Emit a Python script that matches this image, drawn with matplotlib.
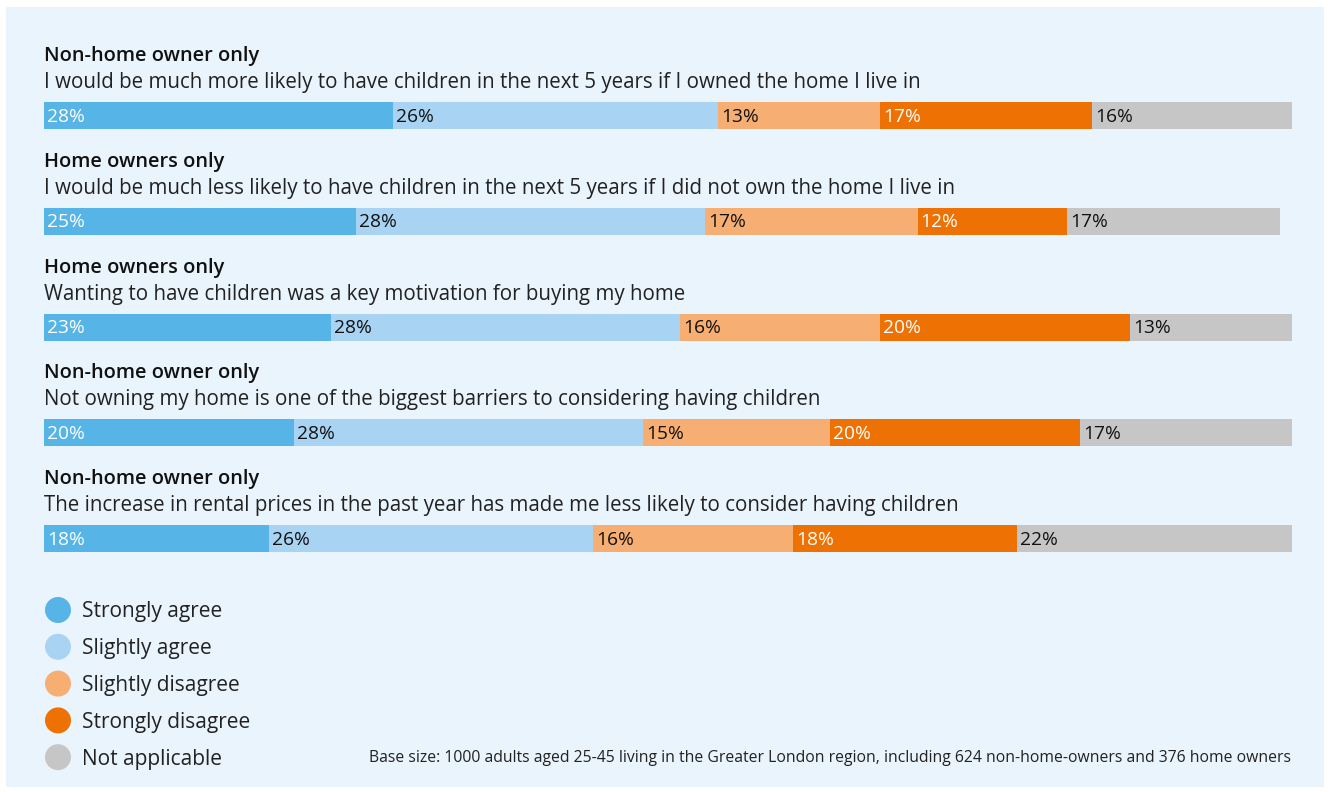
import matplotlib.pyplot as plt
from matplotlib.patches import Rectangle, Circle

plt.rcParams['font.family'] = ['Open Sans', 'DejaVu Sans']

groups = ['Non-home owner only', 'Home owners only', 'Home owners only',
          'Non-home owner only', 'Non-home owner only']
statements = [
    'I would be much more likely to have children in the next 5 years if I owned the home I live in',
    'I would be much less likely to have children in the next 5 years if I did not own the home I live in',
    'Wanting to have children was a key motivation for buying my home',
    'Not owning my home is one of the biggest barriers to considering having children',
    'The increase in rental prices in the past year has made me less likely to consider having children',
]
responses = ['Strongly agree', 'Slightly agree', 'Slightly disagree',
             'Strongly disagree', 'Not applicable']
strongly_agree = [28, 25, 23, 20, 18]
slightly_agree = [26, 28, 28, 28, 26]
slightly_disagree = [13, 17, 16, 15, 16]
strongly_disagree = [17, 12, 20, 20, 18]
not_applicable = [16, 17, 13, 17, 22]
note = ('Base size: 1000 adults aged 25-45 living in the Greater London region, '
        'including 624 non-home-owners and 376 home owners')

colors = ['#56B4E6', '#A8D3F2', '#F7AE72', '#EE7203', '#C6C6C6']
label_colors = ['white', '#111111', '#111111', 'white', '#111111']
panel_bg = '#EAF4FD'

W, H = 1330, 792
fig = plt.figure(figsize=(W / 100, H / 100), dpi=100, facecolor='white')
inch = fig.dpi_scale_trans

# light panel behind everything
fig.patches.append(Rectangle((0.06, (H - 787) / 100), 13.18, 7.80,
                             transform=inch, facecolor=panel_bg,
                             edgecolor='none', zorder=-5))

# bar axes: x in percent, y in pixel rows from the top
ax = fig.add_axes([44 / W, 0, 1248 / W, 1], zorder=2)
ax.set_xlim(0, 100)
ax.set_ylim(H, 0)
ax.axis('off')

series = [strongly_agree, slightly_agree, slightly_disagree,
          strongly_disagree, not_applicable]
row_step = 105.8
bar_h = 27

for i in range(len(statements)):
    yc = 115.5 + row_step * i
    ax.text(0, yc - 54.5, groups[i], fontsize=14.4, fontweight='semibold',
            color='#111111', va='baseline')
    ax.text(0, yc - 27.5, statements[i], fontsize=14.8, color='#222222',
            va='baseline')
    left = 0
    for k, vals in enumerate(series):
        v = vals[i]
        ax.annotate(f'{v}%', (left, yc), xytext=(3, -1),
                    textcoords='offset pixels', fontsize=13.8,
                    color=label_colors[k], va='center', ha='left', zorder=3)
        ax.barh(yc, v, left=left, height=bar_h, color=colors[k], linewidth=0)
        left += v

# legend
for k, name in enumerate(responses):
    y = 610 + 36.8 * k
    fig.patches.append(Circle((0.58, (H - y) / 100), 0.13, transform=inch,
                              facecolor=colors[k], edgecolor='none', zorder=3))
    fig.text(82 / W, 1 - (y + 2) / H, name, fontsize=15, color='#222222',
             va='center', ha='left', zorder=3)

fig.text(1291 / W, 1 - 758 / H, note, fontsize=11.3, color='#222222',
         va='center', ha='right', zorder=3)

fig.savefig('out.png', dpi=100, facecolor='white')
